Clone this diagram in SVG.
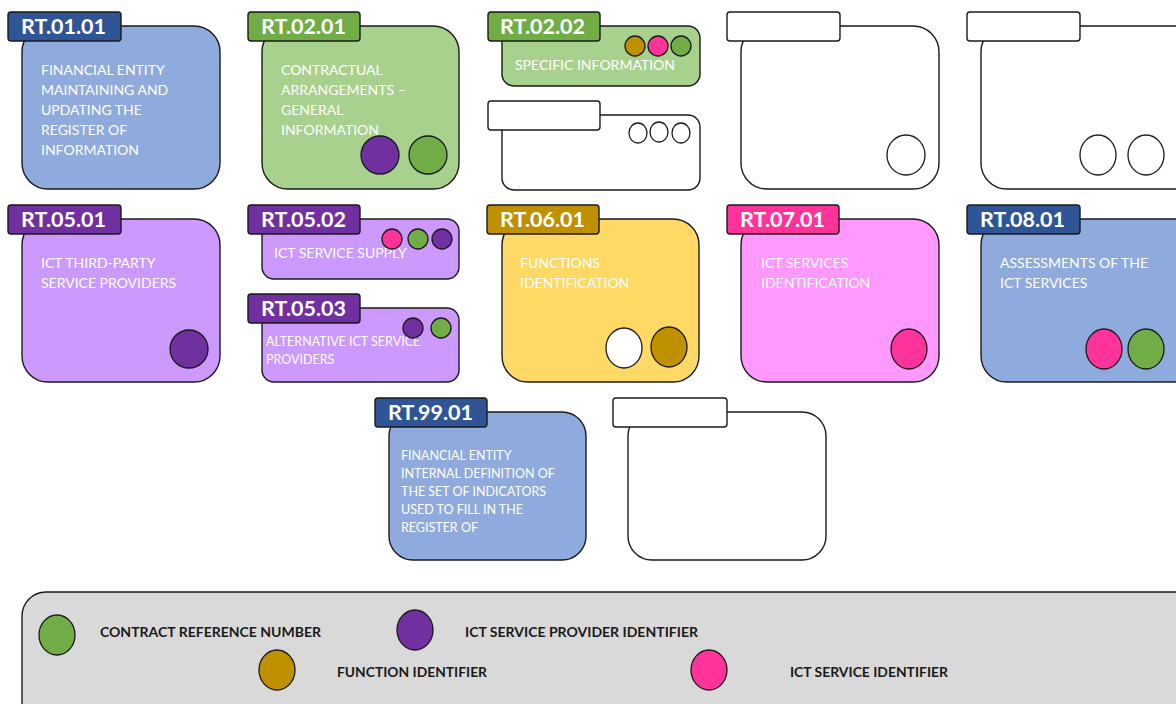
<svg xmlns="http://www.w3.org/2000/svg" width="1176" height="704" viewBox="0 0 1176 704">
<style>
.b{stroke:#1a1a1a;stroke-width:1.4}
.t{stroke:#1a1a1a;stroke-width:1.4}
.tl{font-family:Lato,"Open Sans",sans-serif;font-weight:bold;font-size:21.5px;fill:#fff}
.tx{font-family:Lato,"Open Sans",sans-serif;font-size:14px;fill:#fff}
.sm{font-size:12.5px}
.c{stroke:#1a1a1a;stroke-width:1.3}
.lg{font-family:Lato,"Open Sans",sans-serif;font-weight:bold;font-size:14px;fill:#1a1a1a}
.blue{fill:#8faadc}.dblue{fill:#2f5597}
.lgreen{fill:#a9d18e}.green{fill:#70ad47}
.lpurple{fill:#cc99ff}.purple{fill:#7030a0}
.yellow{fill:#ffd966}.brown{fill:#bf9000}
.lpink{fill:#ff99ff}.pink{fill:#ff3399}
.white{fill:#fff}
</style>
<rect x="0" y="0" width="1176" height="704" fill="#fff"/>

<g id="rt0101">
<rect class="b blue" x="22" y="26" width="198" height="163" rx="26"/>
<rect class="t dblue" x="8" y="12" width="113" height="29" rx="3"/>
<text class="tl" x="21" y="34">RT.01.01</text>
<text class="tx" x="41" y="75">FINANCIAL ENTITY</text>
<text class="tx" x="41" y="95">MAINTAINING AND</text>
<text class="tx" x="41" y="115">UPDATING THE</text>
<text class="tx" x="41" y="135">REGISTER OF</text>
<text class="tx" x="41" y="155">INFORMATION</text>
</g>

<g id="rt0201">
<rect class="b lgreen" x="262" y="26" width="197" height="163" rx="26"/>
<rect class="t green" x="248" y="12" width="112" height="29" rx="3"/>
<text class="tl" x="261" y="34">RT.02.01</text>
<text class="tx" x="281" y="75">CONTRACTUAL</text>
<text class="tx" x="281" y="95">ARRANGEMENTS –</text>
<text class="tx" x="281" y="115">GENERAL</text>
<text class="tx" x="281" y="135">INFORMATION</text>
<circle class="c purple" cx="380" cy="155" r="19"/>
<circle class="c green" cx="428" cy="155" r="19"/>
</g>

<g id="rt0202">
<rect class="b lgreen" x="502" y="26" width="198" height="60" rx="12"/>
<rect class="t green" x="488" y="12" width="112" height="29" rx="3"/>
<text class="tl" x="500" y="34">RT.02.02</text>
<ellipse class="c brown" cx="635" cy="46" rx="10" ry="10"/>
<ellipse class="c pink" cx="658" cy="46" rx="10" ry="10"/>
<ellipse class="c green" cx="681" cy="46" rx="10" ry="10"/>
<text class="tx" x="515" y="70" textLength="160" lengthAdjust="spacingAndGlyphs">SPECIFIC INFORMATION</text>
</g>

<g id="empty1">
<rect class="b white" x="502" y="115" width="198" height="75" rx="12"/>
<rect class="t white" x="488" y="101" width="112" height="29" rx="3"/>
<ellipse class="c white" cx="638" cy="133" rx="9" ry="10"/>
<ellipse class="c white" cx="659" cy="132" rx="9" ry="10"/>
<ellipse class="c white" cx="681" cy="133" rx="9" ry="10"/>
</g>

<g id="empty2">
<rect class="b white" x="741" y="26" width="198" height="163" rx="26"/>
<rect class="t white" x="727" y="12" width="113" height="29" rx="3"/>
<ellipse class="c white" cx="906" cy="155" rx="19" ry="20"/>
</g>

<g id="empty3">
<rect class="b white" x="981" y="26" width="220" height="163" rx="26"/>
<rect class="t white" x="967" y="12" width="113" height="29" rx="3"/>
<ellipse class="c white" cx="1098" cy="155" rx="18" ry="20"/>
<ellipse class="c white" cx="1146" cy="155" rx="18" ry="20"/>
</g>

<g id="rt0501">
<rect class="b lpurple" x="22" y="219" width="198" height="163" rx="26"/>
<rect class="t purple" x="8" y="205" width="113" height="29" rx="3"/>
<text class="tl" x="21" y="227">RT.05.01</text>
<text class="tx" x="41" y="268">ICT THIRD-PARTY</text>
<text class="tx" x="41" y="288">SERVICE PROVIDERS</text>
<circle class="c purple" cx="189" cy="349" r="19"/>
</g>

<g id="rt0502">
<rect class="b lpurple" x="262" y="219" width="197" height="60" rx="12"/>
<rect class="t purple" x="248" y="205" width="112" height="29" rx="3"/>
<text class="tl" x="261" y="227">RT.05.02</text>
<text class="tx" x="274" y="258">ICT SERVICE SUPPLY</text>
<circle class="c pink" cx="392" cy="239" r="10"/>
<circle class="c green" cx="418" cy="239" r="10"/>
<circle class="c purple" cx="442" cy="239" r="10"/>
</g>

<g id="rt0503">
<rect class="b lpurple" x="262" y="308" width="197" height="74" rx="12"/>
<rect class="t purple" x="248" y="294" width="112" height="29" rx="3"/>
<text class="tl" x="261" y="316">RT.05.03</text>
<text class="tx sm" x="266" y="346">ALTERNATIVE ICT SERVICE</text>
<text class="tx sm" x="266" y="364">PROVIDERS</text>
<circle class="c purple" cx="413" cy="328" r="10"/>
<circle class="c green" cx="441" cy="328" r="10"/>
</g>

<g id="rt0601">
<rect class="b yellow" x="502" y="219" width="197" height="163" rx="26"/>
<rect class="t brown" x="487" y="205" width="112" height="29" rx="3"/>
<text class="tl" x="500" y="227">RT.06.01</text>
<text class="tx" x="520" y="268">FUNCTIONS</text>
<text class="tx" x="520" y="288">IDENTIFICATION</text>
<ellipse class="c white" cx="624" cy="348" rx="18" ry="20"/>
<ellipse class="c brown" cx="669" cy="347" rx="18" ry="20"/>
</g>

<g id="rt0701">
<rect class="b lpink" x="741" y="219" width="198" height="163" rx="26"/>
<rect class="t pink" x="727" y="205" width="112" height="29" rx="3"/>
<text class="tl" x="740" y="227">RT.07.01</text>
<text class="tx" x="761" y="268">ICT SERVICES</text>
<text class="tx" x="761" y="288">IDENTIFICATION</text>
<ellipse class="c pink" cx="909" cy="349" rx="18" ry="20"/>
</g>

<g id="rt0801">
<rect class="b blue" x="981" y="219" width="220" height="163" rx="26"/>
<rect class="t dblue" x="967" y="205" width="113" height="29" rx="3"/>
<text class="tl" x="980" y="227">RT.08.01</text>
<text class="tx" x="1000" y="268">ASSESSMENTS OF THE</text>
<text class="tx" x="1000" y="288">ICT SERVICES</text>
<ellipse class="c pink" cx="1104" cy="349" rx="18" ry="20"/>
<ellipse class="c green" cx="1146" cy="349" rx="18" ry="20"/>
</g>

<g id="rt9901">
<rect class="b blue" x="389" y="412" width="197" height="148" rx="24"/>
<rect class="t dblue" x="375" y="398" width="112" height="29" rx="3"/>
<text class="tl" x="388" y="420">RT.99.01</text>
<text class="tx sm" x="401" y="460">FINANCIAL ENTITY</text>
<text class="tx sm" x="401" y="478">INTERNAL DEFINITION OF</text>
<text class="tx sm" x="401" y="496">THE SET OF INDICATORS</text>
<text class="tx sm" x="401" y="514">USED TO FILL IN THE</text>
<text class="tx sm" x="401" y="532">REGISTER OF</text>
</g>

<g id="empty4">
<rect class="b white" x="628" y="412" width="198" height="148" rx="24"/>
<rect class="t white" x="613" y="398" width="114" height="29" rx="3"/>
</g>

<g id="legend">
<rect x="22" y="592" width="1190" height="140" rx="24" fill="#d9d9d9" stroke="#1a1a1a" stroke-width="1.4"/>
<ellipse class="c green" cx="57" cy="635" rx="18" ry="20"/>
<text class="lg" x="100" y="637" textLength="221" lengthAdjust="spacingAndGlyphs">CONTRACT REFERENCE NUMBER</text>
<ellipse class="c purple" cx="415" cy="630" rx="18" ry="20"/>
<text class="lg" x="465" y="637" textLength="233" lengthAdjust="spacingAndGlyphs">ICT SERVICE PROVIDER IDENTIFIER</text>
<ellipse class="c brown" cx="277" cy="670" rx="18" ry="20"/>
<text class="lg" x="337" y="677" textLength="150" lengthAdjust="spacingAndGlyphs">FUNCTION IDENTIFIER</text>
<ellipse class="c pink" cx="709" cy="670" rx="18" ry="20"/>
<text class="lg" x="790" y="677" textLength="158" lengthAdjust="spacingAndGlyphs">ICT SERVICE IDENTIFIER</text>
</g>
<g id="connectors"/>
</svg>
